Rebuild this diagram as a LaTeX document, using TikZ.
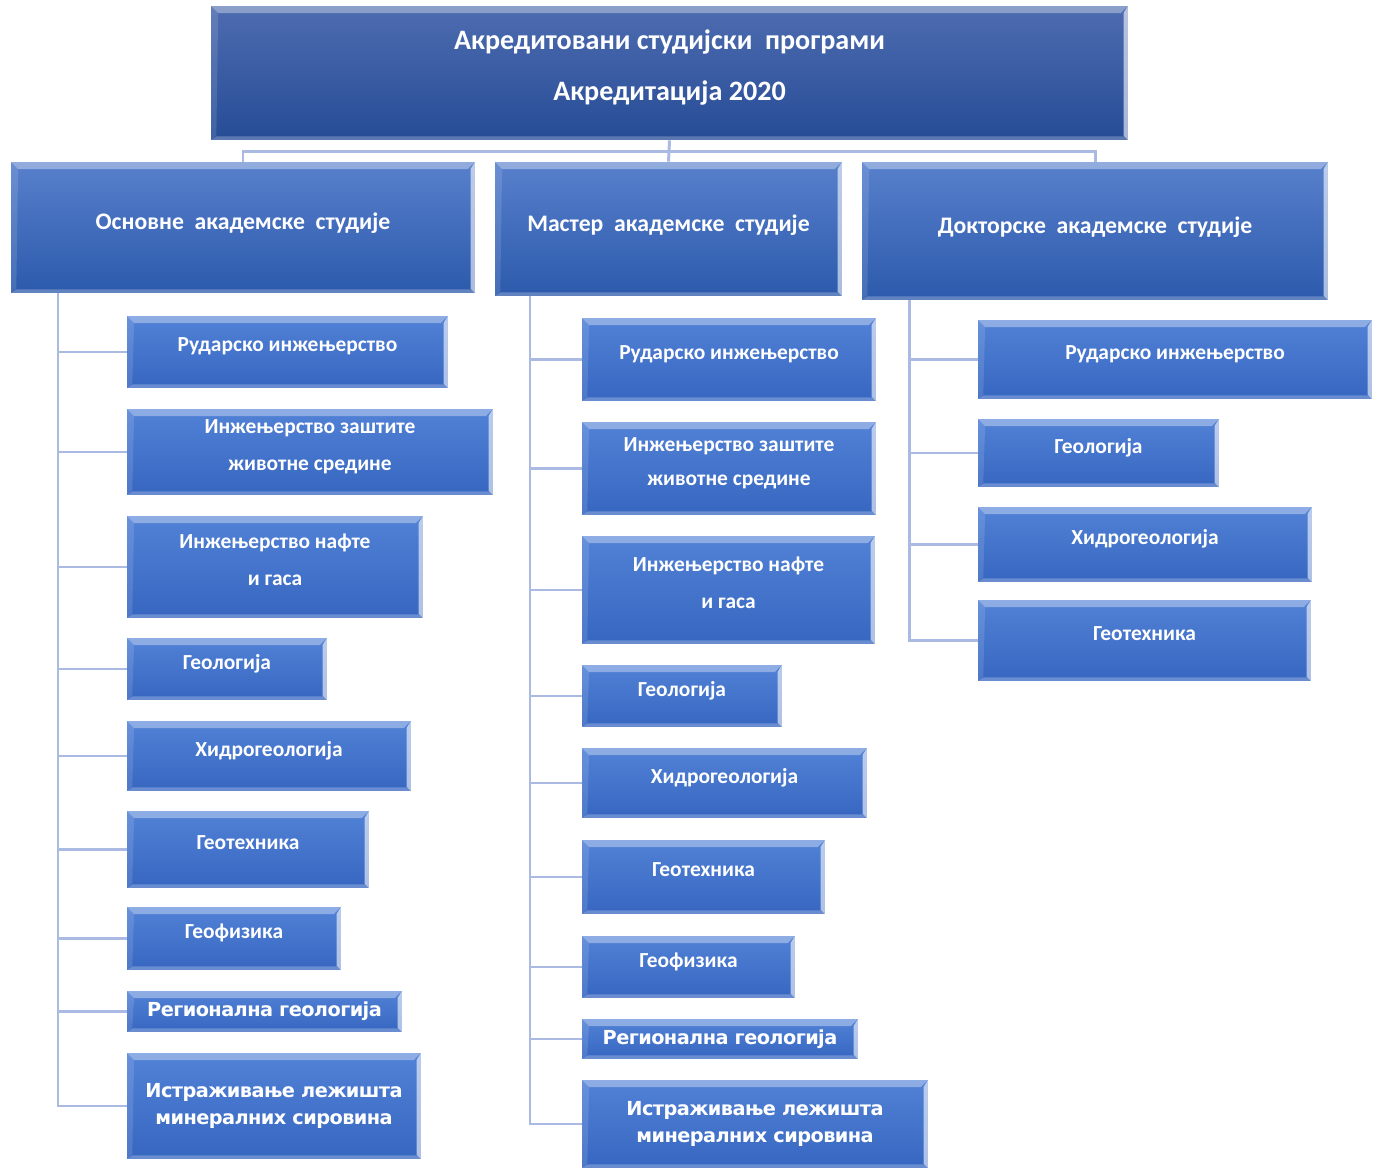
\documentclass[tikz,border=0pt]{standalone}
\usepackage{fontspec}
\setmainfont{Carlito}
\newfontfamily\widefont[LetterSpace=-3]{DejaVu Sans}
\usepackage{xcolor}
\definecolor{ttop}{RGB}{78,108,176}
\definecolor{tbot}{RGB}{38,76,150}
\definecolor{ltop}{RGB}{88,128,204}
\definecolor{lbot}{RGB}{44,90,172}
\definecolor{itop}{RGB}{82,130,214}
\definecolor{ibot}{RGB}{54,102,192}
\definecolor{connc}{RGB}{170,186,226}
\usetikzlibrary{calc}

\tikzset{
  bevel/.style={path picture={
    \fill[white,opacity=.35] (path picture bounding box.north west) -- (path picture bounding box.north east)
      -- ([shift={(-4pt,-4pt)}]path picture bounding box.north east) -- ([shift={(4pt,-4pt)}]path picture bounding box.north west) -- cycle;
    \fill[white,opacity=.6] (path picture bounding box.north east) -- (path picture bounding box.south east)
      -- ([shift={(-2.5pt,2.5pt)}]path picture bounding box.south east) -- ([shift={(-2.5pt,-4pt)}]path picture bounding box.north east) -- cycle;
    \fill[white,opacity=.12] (path picture bounding box.north west) -- (path picture bounding box.south west)
      -- ([shift={(3pt,2.5pt)}]path picture bounding box.south west) -- ([shift={(4pt,-4pt)}]path picture bounding box.north west) -- cycle;
    \fill[white,opacity=.25] (path picture bounding box.south west) -- (path picture bounding box.south east)
      -- ([shift={(-2.5pt,2pt)}]path picture bounding box.south east) -- ([shift={(3pt,2pt)}]path picture bounding box.south west) -- cycle;
  }}
}

\begin{document}
\begin{tikzpicture}[
  x=0.02cm,y=-0.02cm,
  box/.style={rectangle,inner sep=0pt,text=white,align=center,bevel},
  topbox/.style={box,top color=ttop,bottom color=tbot,text depth=8.5pt,font=\fontsize{16}{29}\selectfont\bfseries},
  lvlbox/.style={box,top color=ltop,bottom color=lbot,text depth=7pt,font=\fontsize{13.5}{16}\selectfont\bfseries},
  itembox/.style={box,top color=itop,bottom color=ibot,text depth=8pt,font=\fontsize{12.2}{21}\selectfont\bfseries},
  bigitem/.style={box,top color=itop,bottom color=ibot,font=\fontsize{11}{15}\selectfont\widefont\bfseries},
  conn/.style={draw=connc,line width=1.7pt}
]
  \useasboundingbox (0,0) rectangle (1373,1168);

  % Top
  \node[topbox,minimum width=18.34cm,minimum height=2.68cm] (top) at (669.5,73) {Акредитовани\ студијски\ \ програми\\Акредитација 2020};

  % Levels
  \node[lvlbox,minimum width=9.28cm,minimum height=2.62cm] (bas) at (243,227.5) {Основне\ \ академске\ \ студије};
  \node[lvlbox,minimum width=6.94cm,minimum height=2.68cm] (mas) at (668.5,229) {Мастер\ \ академске\ \ студије};
  \node[lvlbox,minimum width=9.32cm,minimum height=2.76cm] (dok) at (1095,231) {Докторске\ \ академске\ \ студије};

  % Basic studies
  \node[itembox,minimum width=6.42cm,minimum height=1.44cm] (b1) at (287.5,352) {Рударско инжењерство};
  \node[itembox,minimum width=7.32cm,minimum height=1.72cm] (b2) at (310,452) {Инжењерство заштите\\животне средине};
  \node[itembox,minimum width=5.92cm,minimum height=2.04cm] (b3) at (275,567) {Инжењерство нафте\\и гаса};
  \node[itembox,minimum width=4.00cm,minimum height=1.24cm] (b4) at (227,669) {Геологија};
  \node[itembox,minimum width=5.68cm,minimum height=1.40cm] (b5) at (269,756) {Хидрогеологија};
  \node[itembox,minimum width=4.84cm,minimum height=1.54cm] (b6) at (248,849.5) {Геотехника};
  \node[itembox,minimum width=4.28cm,minimum height=1.26cm] (b7) at (234,938.5) {Геофизика};
  \node[bigitem,minimum width=5.50cm,minimum height=0.82cm] (b8) at (264.5,1011.5) {Регионална геологија};
  \node[bigitem,minimum width=5.88cm,minimum height=2.12cm] (b9) at (274,1106) {Истраживање лежишта\\минералних сировина};

  % Master studies
  \node[itembox,minimum width=5.88cm,minimum height=1.66cm] (m1) at (729,359.5) {Рударско инжењерство};
  \node[itembox,minimum width=5.88cm,minimum height=1.86cm,font=\fontsize{12.2}{19}\selectfont\bfseries] (m2) at (729,468.5) {Инжењерство заштите\\животне средине};
  \node[itembox,minimum width=5.86cm,minimum height=2.16cm] (m3) at (728.5,590) {Инжењерство нафте\\и гаса};
  \node[itembox,minimum width=4.00cm,minimum height=1.24cm] (m4) at (682,696) {Геологија};
  \node[itembox,minimum width=5.70cm,minimum height=1.40cm] (m5) at (724.5,783) {Хидрогеологија};
  \node[itembox,minimum width=4.86cm,minimum height=1.48cm] (m6) at (703.5,877) {Геотехника};
  \node[itembox,minimum width=4.26cm,minimum height=1.24cm] (m7) at (688.5,967) {Геофизика};
  \node[bigitem,minimum width=5.52cm,minimum height=0.80cm] (m8) at (720,1039) {Регионална геологија};
  \node[bigitem,minimum width=6.92cm,minimum height=1.76cm] (m9) at (755,1124) {Истраживање лежишта\\минералних сировина};

  % Doctoral studies
  \node[itembox,minimum width=7.88cm,minimum height=1.58cm] (d1) at (1175,359.5) {Рударско инжењерство};
  \node[itembox,minimum width=4.82cm,minimum height=1.36cm] (d2) at (1098.5,453) {Геологија};
  \node[itembox,minimum width=6.68cm,minimum height=1.50cm] (d3) at (1145,544.5) {Хидрогеологија};
  \node[itembox,minimum width=6.66cm,minimum height=1.62cm] (d4) at (1144.5,640.5) {Геотехника};

  % Connectors
  \coordinate (hub) at (669,152);
  \draw[conn] (top.south) -- (hub);
  \draw[conn] (hub) -| (bas.north);
  \draw[conn] (hub) -| (dok.north);
  \draw[conn] (hub) -- (mas.north);

  \coordinate (t1) at (58,293);
  \coordinate (t2) at (530,296);
  \coordinate (t3) at (909,300);
  \foreach \c in {b1,b2,b3,b4,b5,b6,b7,b8,b9}
    \draw[conn] (t1) |- (\c.west);
  \foreach \c in {m1,m2,m3,m4,m5,m6,m7,m8,m9}
    \draw[conn] (t2) |- (\c.west);
  \foreach \c in {d1,d2,d3,d4}
    \draw[conn] (t3) |- (\c.west);
\end{tikzpicture}
\end{document}
